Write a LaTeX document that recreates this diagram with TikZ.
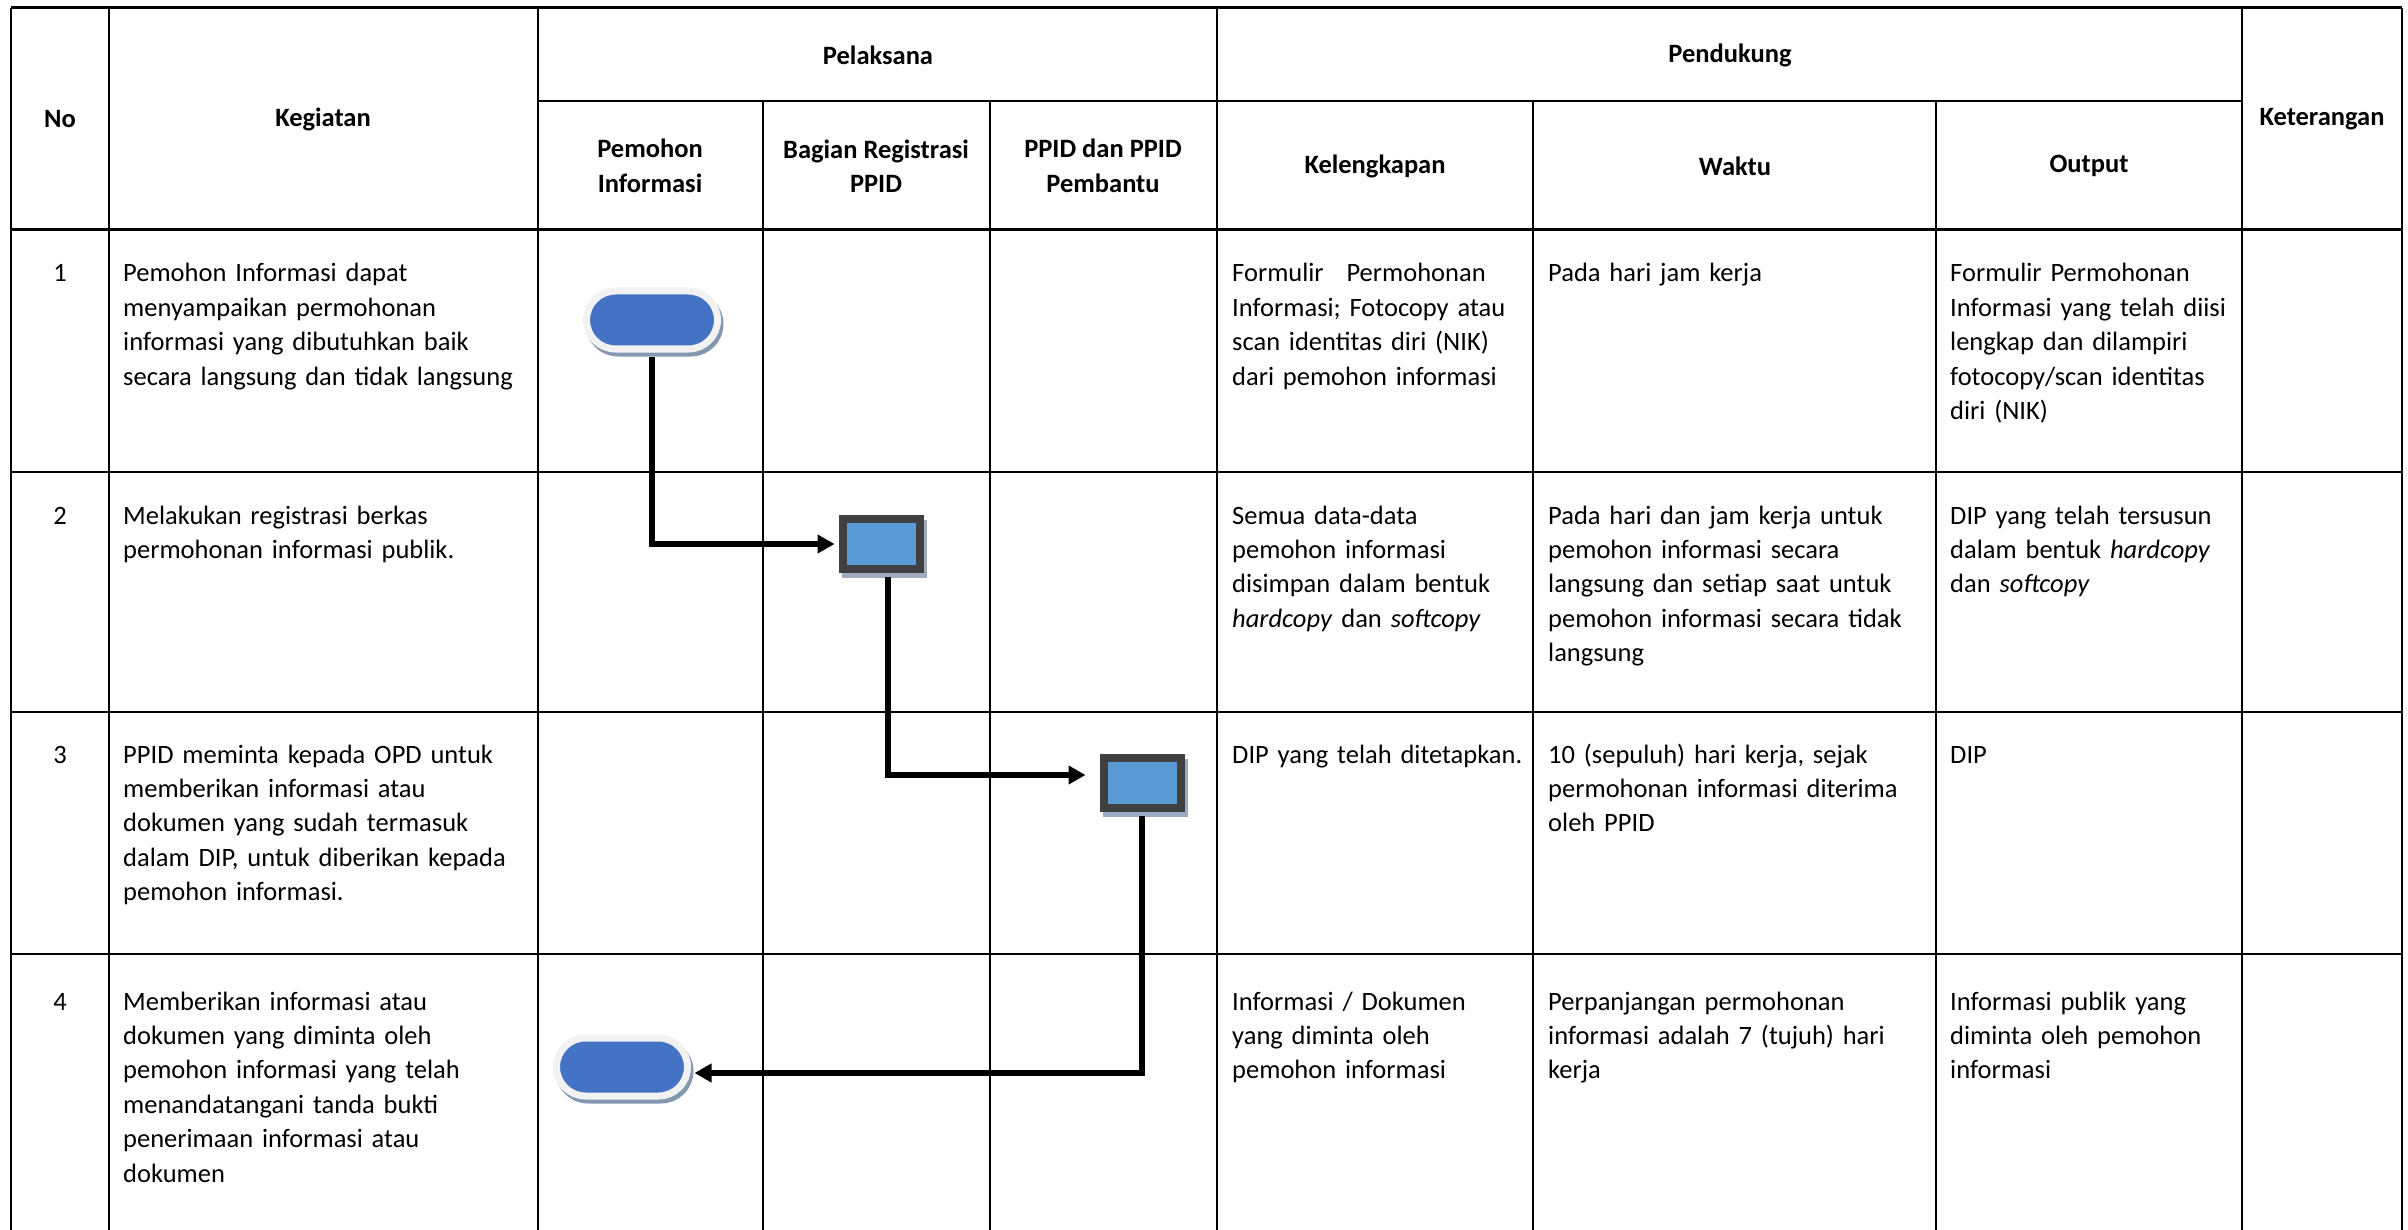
\documentclass[tikz,border=0pt]{standalone}
\usepackage{fontspec}
\setmainfont{Carlito}
\usetikzlibrary{arrows.meta,shadows}
\definecolor{termblue}{HTML}{4472C4}
\definecolor{termrim}{HTML}{F2F2F2}
\definecolor{procblue}{HTML}{5B9BD5}
\definecolor{procrim}{HTML}{404040}
\definecolor{shadegray}{HTML}{8497B0}
\newcommand{\hcopy}{\textit{hardcopy}}
\newcommand{\scopy}{\textit{softcopy}}
\newcommand{\txt}{\fontsize{26.5pt}{34.4pt}\selectfont}

\begin{document}
\begin{tikzpicture}[x=1pt,y=-1pt,
  grid/.style={line width=2.3pt},
  frame/.style={line width=3pt},
  cell/.style={anchor=base west,inner sep=0pt,text width=600pt,align=left,font=\txt},
  head/.style={inner sep=0pt,align=center,font=\txt\bfseries},
  terminal/.style={rectangle,rounded corners=29pt,minimum width=131pt,minimum height=58pt,
    fill=termblue,draw=termrim,line width=7pt,
    drop shadow={shadow xshift=2.5pt,shadow yshift=-4pt,fill=shadegray,draw=shadegray,line width=7pt,opacity=1}},
  process/.style={rectangle,minimum width=77pt,minimum height=50pt,
    fill=procblue,draw=procrim,line width=8pt,
    drop shadow={shadow xshift=3.5pt,shadow yshift=-5pt,fill=shadegray!80,draw=shadegray!80,line width=8pt,opacity=1}},
  flow/.style={line width=6pt,-{Triangle[length=17pt,width=18pt]}}]
  \useasboundingbox (0,0) rectangle (2408,1230);
  % table
  \draw[frame] (  11,   8) -- (2402,   8);
  \draw[ grid] ( 538, 101) -- (2242, 101);
  \draw[frame] (  11, 230) -- (2402, 230);
  \draw[ grid] (  11, 472) -- (2402, 472);
  \draw[ grid] (  11, 712) -- (2402, 712);
  \draw[ grid] (  11, 954) -- (2402, 954);
  \draw[ grid] (  11,   8) -- (  11,1230);
  \draw[ grid] ( 109,   8) -- ( 109,1230);
  \draw[ grid] ( 538,   8) -- ( 538,1230);
  \draw[ grid] ( 763, 101) -- ( 763,1230);
  \draw[ grid] ( 990, 101) -- ( 990,1230);
  \draw[ grid] (1217,   8) -- (1217,1230);
  \draw[ grid] (1533, 101) -- (1533,1230);
  \draw[ grid] (1936, 101) -- (1936,1230);
  \draw[ grid] (2242,   8) -- (2242,1230);
  \draw[ grid] (2402,   8) -- (2402,1230);
  % header
  \draw (  60, 119) node[head] (hno)  {No};
  \draw ( 323, 119) node[head] (hkeg) {Kegiatan};
  \draw ( 878,  55) node[head] (hpel) {Pelaksana};
  \draw (1730,  55) node[head] (hpen) {Pendukung};
  \draw ( 650, 166) node[head] (hpem) {Pemohon\\Informasi};
  \draw ( 876, 166) node[head] (hreg) {Bagian Registrasi\\PPID};
  \draw (1103, 166) node[head] (hppid){PPID dan PPID\\Pembantu};
  \draw (1375, 166) node[head] (hkel) {Kelengkapan};
  \draw (1735, 166) node[head] (hwak) {Waktu};
  \draw (2089, 166) node[head] (hout) {Output};
  \draw (2322, 119) node[head] (hket) {Keterangan};
  % numbers
  \draw (  60, 282) node[anchor=base,font=\txt] (no1) {1};
  \draw (  60, 524) node[anchor=base,font=\txt] (no2) {2};
  \draw (  60, 763) node[anchor=base,font=\txt] (no3) {3};
  \draw (  60,1010) node[anchor=base,font=\txt] (no4) {4};
  % kegiatan
  \draw ( 123, 282) node[cell] (keg1) {Pemohon Informasi dapat\\menyampaikan permohonan\\informasi yang dibutuhkan baik\\secara langsung dan tidak langsung};
  \draw ( 123, 524) node[cell] (keg2) {Melakukan registrasi berkas\\permohonan informasi publik.};
  \draw ( 123, 763) node[cell] (keg3) {PPID meminta kepada OPD untuk\\memberikan informasi atau\\dokumen yang sudah termasuk\\dalam DIP, untuk diberikan kepada\\pemohon informasi.};
  \draw ( 123,1010) node[cell] (keg4) {Memberikan informasi atau\\dokumen yang diminta oleh\\pemohon informasi yang telah\\menandatangani tanda bukti\\penerimaan informasi atau\\dokumen};
  % kelengkapan
  \draw (1232, 282) node[cell] (kel1) {Formulir\hspace{14pt} Permohonan\\Informasi; Fotocopy atau\\scan identitas diri (NIK)\\dari pemohon informasi};
  \draw (1232, 524) node[cell] (kel2) {Semua data-data\\pemohon informasi\\disimpan dalam bentuk\\\hcopy{} dan \scopy};
  \draw (1232, 763) node[cell] (kel3) {DIP yang telah ditetapkan.};
  \draw (1232,1010) node[cell] (kel4) {Informasi / Dokumen\\yang diminta oleh\\pemohon informasi};
  % waktu
  \draw (1548, 282) node[cell] (wak1) {Pada hari jam kerja};
  \draw (1548, 524) node[cell] (wak2) {Pada hari dan jam kerja untuk\\pemohon informasi secara\\langsung dan setiap saat untuk\\pemohon informasi secara tidak\\langsung};
  \draw (1548, 763) node[cell] (wak3) {10 (sepuluh) hari kerja, sejak\\permohonan informasi diterima\\oleh PPID};
  \draw (1548,1010) node[cell] (wak4) {Perpanjangan permohonan\\informasi adalah 7 (tujuh) hari\\kerja};
  % output
  \draw (1950, 282) node[cell] (out1) {Formulir Permohonan\\Informasi yang telah diisi\\lengkap dan dilampiri\\fotocopy/scan identitas\\diri (NIK)};
  \draw (1950, 524) node[cell] (out2) {DIP yang telah tersusun\\dalam bentuk \hcopy\\dan \scopy};
  \draw (1950, 763) node[cell] (out3) {DIP};
  \draw (1950,1010) node[cell] (out4) {Informasi publik yang\\diminta oleh pemohon\\informasi};
  % flow
  \node[terminal] (t1) at ( 652, 320) {};
  \node[process]  (r1) at ( 881, 544) {};
  \node[process]  (r2) at (1142, 783) {};
  \node[terminal] (t2) at ( 622,1067) {};
  \draw[flow,shorten <=4pt,shorten >=4pt] (t1.south) |- (r1.west);
  \draw[flow,shorten <=4pt,shorten >=14pt] ([xshift=6.5pt]r1.south) |- ([yshift=8pt]r2.west);
  \draw[flow,shorten <=4pt] (r2.south) |- ([xshift=3.5pt,yshift=-6pt]t2.east);
\end{tikzpicture}
\end{document}
